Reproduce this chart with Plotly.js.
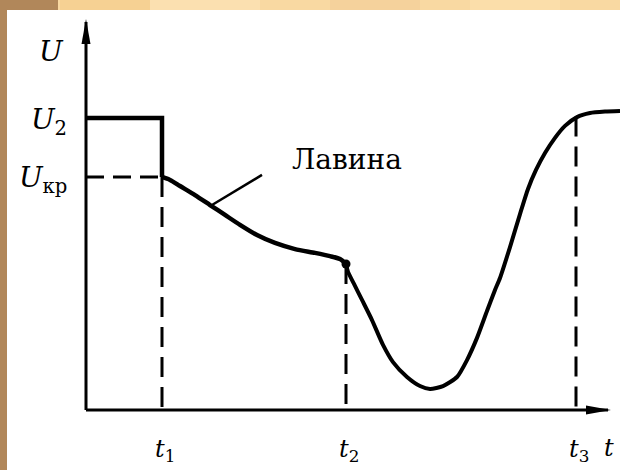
<!DOCTYPE html>
<html>
<head>
<meta charset="utf-8">
<script src="https://cdn.plot.ly/plotly-3.0.1.min.js"></script>
<style>html,body{margin:0;padding:0;background:#fff;}#chart{width:620px;height:470px;}</style>
</head>
<body>
<div id="chart"></div>
<script>
// Marked times on the t axis: t1, t2, t3
const tickT = [7.6, 26.0, 49.0];
const tickTLabels = ['<i>t</i><sub>1</sub>', '<i>t</i><sub>2</sub>', '<i>t</i><sub>3</sub>'];
// Voltage levels on the U axis: U2, Uкр
const levelU = [10.0, 7.98];
const levelULabels = ['<i>U</i><sub>2</sub>', '<i>U</i><sub>кр</sub>'];
// Initial applied voltage step
const stepT = [0, 7.6, 7.6];
const stepU = [10.0, 10.0, 7.98];
// Avalanche part of the curve (t1 .. t2)
const avalT = [7.6, 8.4, 9.4, 10.9, 12.4, 13.9, 15.4, 17.1, 18.9, 20.9, 22.9, 24.4, 25.4, 26.0];
const avalU = [7.98, 7.88, 7.67, 7.36, 7.02, 6.68, 6.34, 5.99, 5.72, 5.51, 5.38, 5.27, 5.17, 5.0];
// Drop and recovery after t2
const recT = [26.0, 26.2, 26.8, 27.6, 28.6, 29.7, 30.7, 32.1, 33.4, 34.4, 35.7, 37.1, 38.1, 39.1, 40.1, 40.9, 41.4, 42.4, 43.4, 44.2, 45.0, 45.9, 46.9, 47.9, 49.1, 50.4, 51.9, 53.4];
const recU = [5.0, 4.73, 4.32, 3.77, 3.08, 2.23, 1.64, 1.13, 0.82, 0.72, 0.82, 1.13, 1.71, 2.47, 3.39, 4.11, 4.52, 5.58, 6.71, 7.57, 8.22, 8.80, 9.32, 9.73, 10.03, 10.17, 10.22, 10.24];
// Leader line pointing to the avalanche label
const leaderT = [12.6, 17.6];
const leaderU = [7.02, 8.05];
const leaderLabel = 'Лавина';
// Axis extents
const axisTEnd = 52.2;
const axisUEnd = 13.29;
const axisLabels = ['<i>U</i>', '<i>t</i>'];
// top of each dashed marker line (where it meets the curve)
const dashTopU = [7.98, 5.0, 10.05];

const black = '#000';
const traces = [];
// axes
traces.push({x:[0, axisTEnd], y:[0, 0], mode:'lines', line:{color:black, width:3}, hoverinfo:'skip'});
traces.push({x:[0, 0], y:[0, axisUEnd], mode:'lines', line:{color:black, width:3}, hoverinfo:'skip'});
// dashed guides
traces.push({x:[0, tickT[0]], y:[levelU[1], levelU[1]], mode:'lines', line:{color:black, width:3, dash:'18px,9px'}, hoverinfo:'skip'});
for (let i = 0; i < tickT.length; i++) {
  traces.push({x:[tickT[i], tickT[i]], y:[dashTopU[i], 0], mode:'lines', line:{color:black, width:3, dash:'20px,10px'}, hoverinfo:'skip'});
}
// main curve
traces.push({x:stepT, y:stepU, mode:'lines', line:{color:black, width:4.5}, hoverinfo:'skip'});
traces.push({x:avalT, y:avalU, mode:'lines', line:{color:black, width:4.5, shape:'spline', smoothing:0.7}, hoverinfo:'skip'});
traces.push({x:recT, y:recU, mode:'lines', line:{color:black, width:4, shape:'spline', smoothing:0.6}, hoverinfo:'skip'});
traces.push({x:[avalT[avalT.length-1]], y:[avalU[avalU.length-1]], mode:'markers', marker:{color:black, size:9}, hoverinfo:'skip'});
// leader
traces.push({x:leaderT, y:leaderU, mode:'lines', line:{color:black, width:2.5}, hoverinfo:'skip'});

const serif = 'DejaVu Serif';
const annotations = [];
tickT.forEach((t, i) => {
  annotations.push({x:t, y:0, xref:'x', yref:'y', text:tickTLabels[i], showarrow:false,
    xanchor:'center', yanchor:'middle', xshift:3, yshift:-40, font:{family:serif, size:24, color:black}});
});
levelU.forEach((u, i) => {
  annotations.push({x:0, y:u, xref:'x', yref:'y', text:levelULabels[i], showarrow:false,
    xanchor:'right', yanchor:'middle', xshift:-17, yshift:-3, font:{family:serif, size:28, color:black}});
});
annotations.push({x:0, y:axisUEnd, xref:'x', yref:'y', text:axisLabels[0], showarrow:false,
  xanchor:'right', yanchor:'middle', xshift:-20, yshift:-30, font:{family:serif, size:28, color:black}});
annotations.push({x:axisTEnd, y:0, xref:'x', yref:'y', text:axisLabels[1], showarrow:false,
  xanchor:'center', yanchor:'middle', xshift:1, yshift:-38, font:{family:serif, size:24, color:black}});
annotations.push({x:leaderT[1], y:leaderU[1], xref:'x', yref:'y', text:leaderLabel, showarrow:false,
  xanchor:'left', yanchor:'bottom', xshift:28, yshift:-3, font:{family:serif, size:28, color:black}});

const brown = '#b1875a';
const shapes = [
  {type:'rect', xref:'paper', yref:'paper', x0:0, x1:1, y0:1-10/470, y1:1, fillcolor:'#f9d9a2', line:{width:0}, layer:'below'},
  {type:'rect', xref:'paper', yref:'paper', x0:60/620, x1:150/620, y0:1-10/470, y1:1, fillcolor:'#f6d193', line:{width:0}, layer:'below'},
  {type:'rect', xref:'paper', yref:'paper', x0:150/620, x1:260/620, y0:1-10/470, y1:1, fillcolor:'#fbe0b0', line:{width:0}, layer:'below'},
  {type:'rect', xref:'paper', yref:'paper', x0:330/620, x1:420/620, y0:1-10/470, y1:1, fillcolor:'#f5d29c', line:{width:0}, layer:'below'},
  {type:'rect', xref:'paper', yref:'paper', x0:470/620, x1:560/620, y0:1-10/470, y1:1, fillcolor:'#fbdeaa', line:{width:0}, layer:'below'},
  {type:'rect', xref:'paper', yref:'paper', x0:0, x1:58/620, y0:1-10/470, y1:1, fillcolor:brown, line:{width:0}, layer:'below'},
  {type:'rect', xref:'paper', yref:'paper', x0:0, x1:7/620, y0:0, y1:1, fillcolor:brown, line:{width:0}, layer:'below'},
  // arrowheads
  {type:'path', xref:'x', yref:'y', xsizemode:'pixel', ysizemode:'pixel', xanchor:axisTEnd, yanchor:0,
   path:'M3,0 L-22,-4.5 L-22,4.5 Z', fillcolor:black, line:{width:0}},
  {type:'path', xref:'x', yref:'y', xsizemode:'pixel', ysizemode:'pixel', xanchor:0, yanchor:axisUEnd,
   path:'M0,3 L-4.5,-22 L4.5,-22 Z', fillcolor:black, line:{width:0}}
];

const layout = {
  width:620, height:470,
  margin:{l:0, r:0, t:0, b:0, pad:0},
  paper_bgcolor:'#ffffff', plot_bgcolor:'rgba(0,0,0,0)',
  showlegend:false,
  font:{family:serif},
  xaxis:{range:[-8.6, 53.4], visible:false, fixedrange:true},
  yaxis:{range:[-60/29.2, 410/29.2], visible:false, fixedrange:true},
  annotations:annotations, shapes:shapes
};
Plotly.newPlot('chart', traces, layout, {staticPlot:true, displayModeBar:false});
</script>
</body>
</html>
